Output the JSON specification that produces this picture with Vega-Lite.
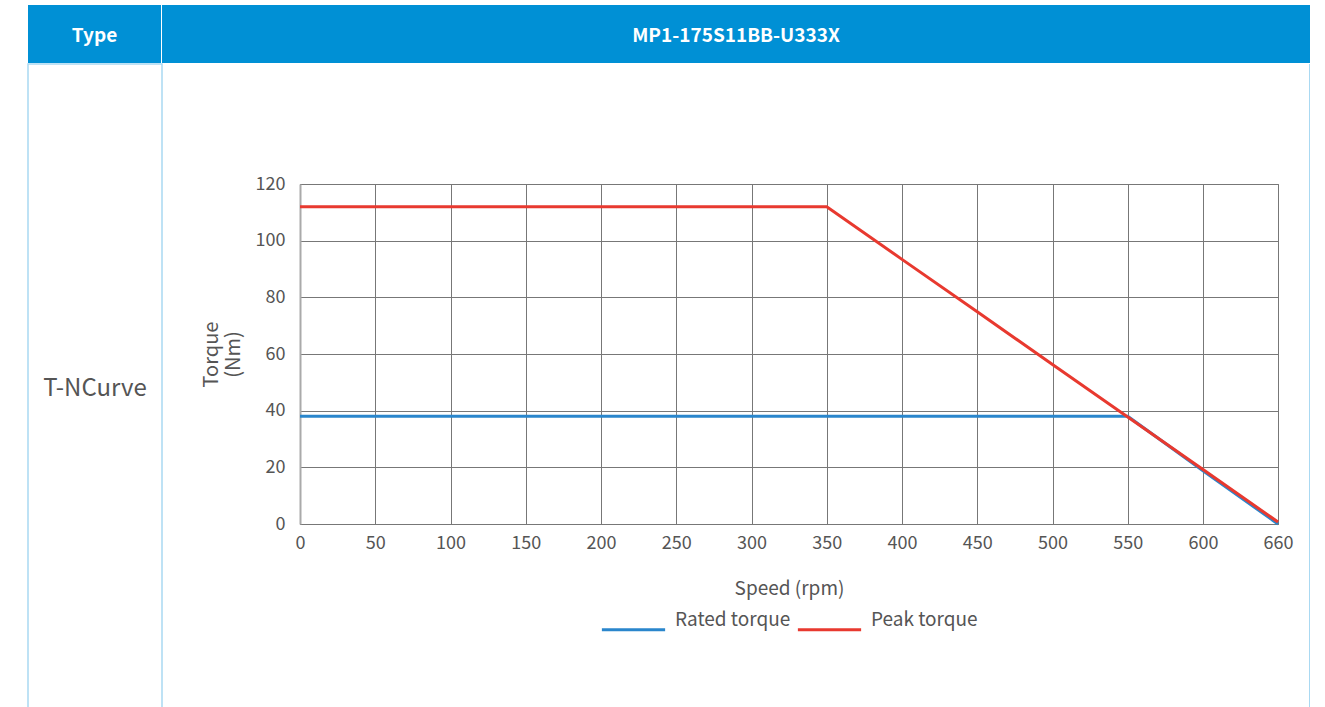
{
  "$schema": "https://vega.github.io/schema/vega-lite/v6.json",
  "padding": {"left": 27, "top": 5, "right": 0, "bottom": 0},
  "background": "white",
  "config": {
    "view": {"stroke": null},
    "font": "Noto Sans CJK SC",
    "text": {"font": "Noto Sans CJK SC"},
    "legend": {"layout": {"bottom": {"anchor": "middle"}}}
  },
  "spacing": 0,
  "resolve": {"legend": {"color": "independent"}},
  "vconcat": [
    {
      "hconcat": [
        {
          "width": 133,
          "height": 58,
          "view": {"fill": "#0090d5", "stroke": null},
          "data": {"values": [{"label": "Type"}]},
          "mark": {"type": "text", "color": "white", "fontSize": 19, "fontWeight": "bold", "dy": 2},
          "encoding": {"text": {"field": "label"}}
        },
        {
          "width": 1148,
          "height": 58,
          "view": {"fill": "#0090d5", "stroke": null},
          "data": {"values": [{"label": "MP1-175S11BB-U333X"}]},
          "mark": {"type": "text", "color": "white", "fontSize": 19, "fontWeight": "bold", "dy": 2},
          "encoding": {"text": {"field": "label"}}
        }
      ],
      "spacing": 1
    },
    {
      "resolve": {"legend": {"color": "independent"}},
      "hconcat": [
        {
          "width": 134,
          "height": 650,
          "view": {"fill": "white", "stroke": "#a9d9f2", "strokeWidth": 1.5},
          "data": {"values": [{"label": "T-NCurve"}]},
          "mark": {"type": "text", "color": "#555555", "fontSize": 24},
          "encoding": {"text": {"field": "label"}}
        },
        {
          "resolve": {"legend": {"color": "independent"}},
          "hconcat": [
            {
              "resolve": {"legend": {"color": "independent"}},
              "vconcat": [
                {
                  "width": 1,
                  "height": 1,
                  "view": {"stroke": null},
                  "data": {"values": [{"label": ""}]},
                  "mark": {"type": "text", "fontSize": 1},
                  "encoding": {"text": {"field": "label"}}
                },
                {
                  "width": 978,
                  "height": 340,
                  "view": {"stroke": "#777777", "strokeWidth": 1},
                  "data": {
                    "values": [
                      {"series": "Rated torque", "speed": 0, "torque": 38},
                      {"series": "Rated torque", "speed": 550, "torque": 38},
                      {"series": "Rated torque", "speed": 600, "torque": 18.8},
                      {"series": "Rated torque", "speed": 660, "torque": 0},
                      {"series": "Peak torque", "speed": 0, "torque": 112},
                      {"series": "Peak torque", "speed": 350, "torque": 112},
                      {"series": "Peak torque", "speed": 400, "torque": 93.4},
                      {"series": "Peak torque", "speed": 450, "torque": 74.9},
                      {"series": "Peak torque", "speed": 500, "torque": 56.3},
                      {"series": "Peak torque", "speed": 550, "torque": 37.8},
                      {"series": "Peak torque", "speed": 600, "torque": 19.2},
                      {"series": "Peak torque", "speed": 660, "torque": 0.7}
                    ]
                  },
                  "mark": {"type": "line", "strokeWidth": 3, "clip": false},
                  "encoding": {
                    "x": {
                      "field": "speed",
                      "type": "quantitative",
                      "scale": {"domain": [0, 600, 660], "range": [0, 903, 978]},
                      "axis": {
                        "values": [0, 50, 100, 150, 200, 250, 300, 350, 400, 450, 500, 550, 600, 660],
                        "format": "d",
                        "grid": true,
                        "gridColor": "#777777",
                        "gridOpacity": 1,
                        "gridWidth": 1,
                        "domainColor": "#777777",
                        "domainWidth": 1,
                        "ticks": false,
                        "labelFlush": false,
                        "labelFontSize": 18,
                        "labelColor": "#555555",
                        "labelPadding": 10,
                        "title": "Speed (rpm)",
                        "titleFontSize": 19,
                        "titleFontWeight": "normal",
                        "titleColor": "#555555",
                        "titlePadding": 27
                      }
                    },
                    "y": {
                      "field": "torque",
                      "type": "quantitative",
                      "scale": {"domain": [0, 120]},
                      "axis": {
                        "values": [0, 20, 40, 60, 80, 100, 120],
                        "grid": true,
                        "gridColor": "#777777",
                        "gridOpacity": 1,
                        "gridWidth": 1,
                        "domainColor": "#aaaaaa",
                        "domainWidth": 2,
                        "ticks": false,
                        "labelFlush": false,
                        "labelFontSize": 18,
                        "labelColor": "#555555",
                        "labelPadding": 15,
                        "title": ["Torque", "(Nm)"],
                        "titleFontSize": 20,
                        "titleFontWeight": "normal",
                        "titleColor": "#555555",
                        "titlePadding": 12,
                        "titleLineHeight": 22
                      }
                    },
                    "color": {
                      "field": "series",
                      "type": "nominal",
                      "sort": ["Rated torque", "Peak torque"],
                      "scale": {"domain": ["Rated torque", "Peak torque"], "range": ["#2a86cc", "#e8392f"]},
                      "legend": {
                        "orient": "bottom",
                        "direction": "horizontal",
                        "title": null,
                        "symbolType": "stroke",
                        "symbolSize": 4000,
                        "symbolStrokeWidth": 3,
                        "labelFontSize": 19,
                        "labelColor": "#555555",
                        "labelOffset": 8,
                        "labelBaseline": "bottom",
                        "columnPadding": 0,
                        "padding": 0,
                        "offset": -2
                      }
                    }
                  }
                }
              ],
              "spacing": 109
            },
            {
              "width": 1,
              "height": 650,
              "view": {"fill": "#a9d9f2", "stroke": null},
              "data": {"values": [{"label": ""}]},
              "mark": {"type": "text", "fontSize": 1},
              "encoding": {"text": {"field": "label"}}
            }
          ],
          "spacing": 15
        }
      ],
      "spacing": 37
    }
  ]
}
